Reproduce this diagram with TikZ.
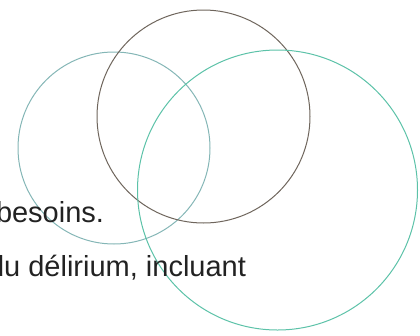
\documentclass[tikz,border=0pt]{standalone}
\usepackage{fontspec}
\setmainfont{Liberation Sans}
\definecolor{leftc}{HTML}{84B6B6}
\definecolor{midc}{HTML}{6E655C}
\definecolor{rightc}{HTML}{5CC2A8}
\definecolor{txt}{HTML}{222222}
\begin{document}
\begin{tikzpicture}[x=1pt,y=-1pt,
  ring/.style={circle, draw, line width=1pt, inner sep=0pt, outer sep=0pt},
  label/.style={inner sep=0pt, outer sep=0pt, text=txt, font=\fontsize{29}{34}\selectfont}]
\useasboundingbox (0,0) rectangle (420,335);
\node[ring, draw=leftc, minimum size=192pt] (left) at (114,148) {};
\node[ring, draw=midc, minimum size=213pt] (mid) at (203.5,116.5) {};
\node[ring, draw=rightc, minimum size=280pt] (right) at (277.5,190) {};
\node[label, anchor=base west] (t1) at (-4,222) {besoins.};
\node[label, anchor=base east] (t2) at (246,276) {du délirium, incluant};
\end{tikzpicture}
\end{document}
